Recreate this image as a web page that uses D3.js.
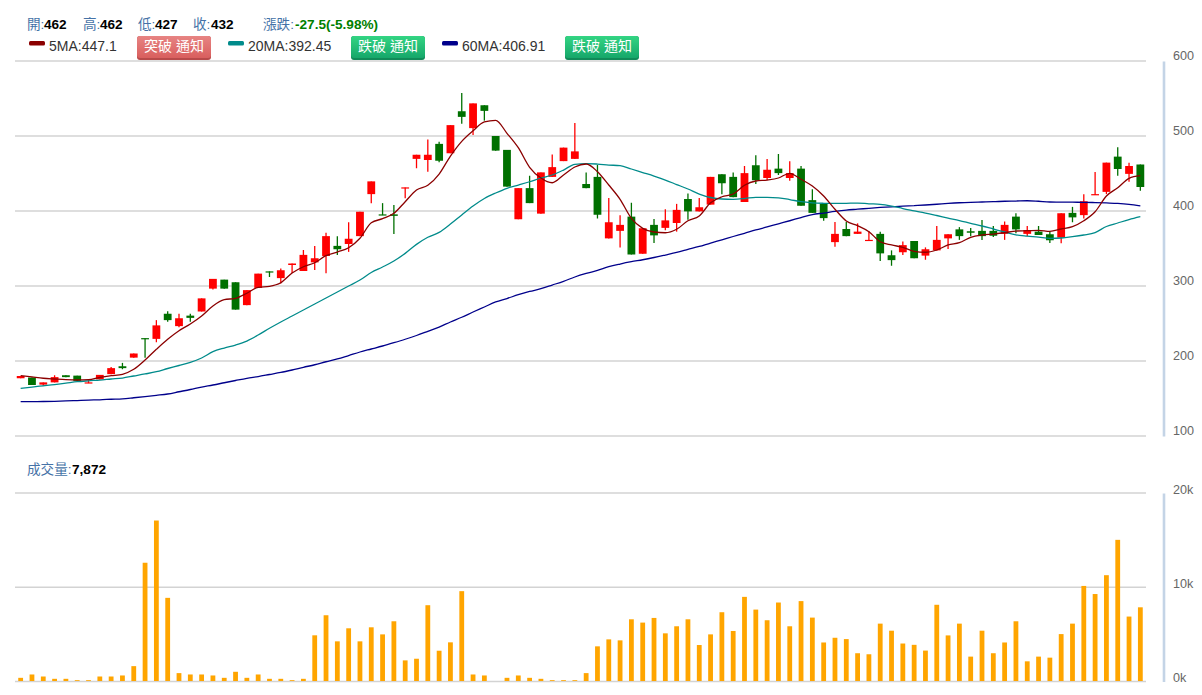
<!DOCTYPE html>
<html><head><meta charset="utf-8">
<script src="https://cdn.jsdelivr.net/npm/d3@7"></script>
<style>
html,body{margin:0;padding:0;background:#fff;overflow:hidden}
svg{display:block}
text{font-family:Arial,"Liberation Sans","Noto Sans CJK TC",sans-serif}
</style></head><body><svg id="c" width="1202" height="695"></svg>
<script>
const opens=[177,178,168.5,171.5,181,180.5,170.5,175.5,182.5,193,204.5,230.5,229.5,263,246.5,260.5,266,296.5,308.5,305,274.5,297.5,319.5,310.5,328,320,331.5,340,353.5,356,366.5,422.5,395.5,395.5,430.5,469.5,468,489.5,477,533,510.5,541,500,481.5,389,430.5,396.5,445.5,466.5,469.5,436,445.5,363.5,373.5,392.5,343,381.5,377.5,384,416,399.5,408.5,449,445.5,412,461,444,456.5,444,456.5,414.5,409.5,358.5,376,369.5,360.5,369.5,341,345,360,340.5,347.5,363.5,375.5,373,373.5,373.5,369.5,392.5,369.5,372.5,369,364.5,397.5,394.5,421.5,425.5,472.5,449.5,462];
const highs=[180,178,171.5,181,181,180.5,174.5,181.5,192,197.5,210,230.5,254.5,266.5,263,263,283.5,309.5,308.5,305,294.5,316.5,319.5,323.5,330,348,353.5,371,366.5,385,399,439.5,410.5,408,431.5,475,495.5,492.5,514.5,557.5,543.5,541,500,481.5,430.5,447,451.5,475.5,484.5,517.5,451.5,461.5,417.5,394.5,411,377,389.5,402.5,409.5,423.5,417.5,445.5,449,451.5,460,474.5,469.5,476,466.5,460,429,409.5,385.5,385.5,383.5,373.5,372.5,347.5,359.5,360,351.5,380,369,378.5,377.5,388,380,386,397,380,380,372.5,397,405.5,422.5,452,464.5,485,464.5,462];
const lows=[177,168,167,171.5,178.5,173.5,170.5,175.5,182.5,189,204.5,204.5,225,252.5,245,252.5,266,295.5,296.5,268.5,274.5,297.5,312,303.5,317.5,320,321.5,317,341.5,345.5,366.5,410.5,394.5,369.5,417,457,452.5,465,477,516.5,501.5,520.5,480.5,432.5,389,410.5,396.5,445.5,466.5,469.5,430.5,390,363.5,351.5,342,343,357.5,374.5,372.5,388.5,399.5,408.5,422.5,418.5,412,436,441.5,448,440.5,407,397.5,387,352.5,366.5,369.5,360.5,333.5,327,341.5,337,335,347.5,349.5,361.5,366.5,361.5,365.5,361.5,370.5,366.5,368,357.5,357,385,390,421.5,422.5,447,439,427];
const closes=[180,168,171.5,178.5,178.5,173.5,171.5,181.5,190.5,190.5,210,229,247.5,254.5,257,257.5,283.5,309.5,296.5,268.5,294.5,316.5,318.5,321,330,341.5,337,366.5,349,363,399,439.5,394.5,393.5,431.5,475,475,467,514.5,525.5,543.5,533.5,480.5,432.5,430.5,410.5,451.5,458.5,484.5,479.5,430.5,395,385,381.5,342,377,367.5,387.5,401.5,399.5,405,445.5,437,418.5,450.5,441,455,450.5,450.5,407,397.5,390.5,369.5,366.5,372.5,361.5,343.5,334.5,354.5,337,349,361.5,369,366.5,371,366.5,367,381.5,375.5,374.5,368,361,397,391.5,413,422.5,464.5,456,460,432];
const ma5=[180.4,178.7,177,176,175.1,174.7,175.1,178.3,180.4,182.3,188.9,201.3,215.6,229,240.4,249.3,260,273.3,281.7,283.6,290.3,298.3,299.6,304.4,317.3,325.7,331,340.4,345.3,351,363.6,384.4,389.7,396.9,412.4,428,434.3,449.3,473.3,492.9,507,518.7,520.9,503.6,484.4,458.3,444,437.7,448,458.7,462.7,452.4,434.7,415.6,390.2,376.9,372,371,375.6,387,393.3,411,419,422.7,434.3,440,441.3,444,450.3,442.3,433.3,420,402.3,386.7,380.4,372.4,359,354.7,351.6,346.3,345,348,354.7,357.7,364.9,368,369.3,371,373.3,373.7,374.3,372.9,376,379.1,387,399,420,431,443.6,447.1];
const ma20=[163.6,165.3,166.9,168.5,170.4,172.4,173.6,174.6,176,177.3,180,182.7,185.7,190,194,198.2,204,212.4,217.3,221.3,226.6,234.6,243.6,252,260,268,276,284,292,300,308,318,325.3,333.3,343.5,355.5,365,371.5,382.6,394.7,406.6,416.6,424,430.3,434.6,439,444,448,454.6,462.3,463.3,462.6,461.3,460.4,456,451.3,446.6,441.3,435.3,429.3,422.6,418,416,415.6,416.6,418.3,418.3,417.6,415.3,412.4,410.9,410.3,410.1,410.3,410.6,409.6,408.9,406.6,403.3,400.3,397.3,394,390.6,387.3,383.6,380,376,372,368.3,366.6,365.3,363.6,364,365.7,368,371.3,379.3,384,388.6,392.45];
const ma60=[145.7,145.9,146,146.3,146.7,147.3,147.9,148.3,149,149.6,151,152.5,154.2,156,159,162,165.3,168,171,174,176.9,179.3,182,184.7,188,191.6,195,199,202.7,207.3,212,216,220,224.4,229,234,239.6,245.3,252,258.3,265.3,272,278.7,283.3,288.4,292.7,296.4,301.3,306.3,312,316.7,320.7,325.7,329.3,332.4,335,338,341.3,344.7,348.7,352.7,357.3,361.6,366,370.3,374.7,378.7,382.9,387,391.3,395.3,397.3,399.5,401.3,402.4,403.6,404.7,405.6,406.4,407.2,408,409,410.1,411,411.6,412,412.4,413,413.3,413.7,413,412,411.9,411.7,411.6,411.2,410.7,410.1,408.9,406.91];
const volumes=[390,745,530,285,285,140,140,530,530,640,1630,12600,17080,8875,890,745,745,640,390,1030,390,745,285,285,140,285,4900,7030,4260,5645,4260,5750,5000,6390,2240,2415,8095,3265,4155,9585,745,640,30,390,640,390,285,140,140,140,890,3730,4470,4365,6600,6250,6745,5110,5860,6600,3870,5000,7350,5360,8980,7630,6500,8380,5860,8530,6780,4140,4640,4500,3000,2890,6140,5390,4030,3890,3280,8140,4890,6140,2640,5390,3000,4140,6390,2140,2640,2530,5030,6140,10140,9280,11280,15030,6890,7872];
const priceTicks=[100,200,300,400,500,600];
const volumeTicks=[0,10000,20000];
const quote=[["開:","462",27,44],["高:","462",83,100],["低:","427",138,155],["收:","432",193,211]];
const maLegend=[["5MA:447.1","#8b0000","突破 通知","r"],["20MA:392.45","#008b8b","跌破 通知","g"],["60MA:406.91","#00008b","跌破 通知","g"]];

const svg=d3.select("#c");
const defs=svg.append("defs");
[["r","#e78483","#d95f5e"],["g","#33d583","#16a76a"]].forEach(([id,a,b])=>{
  const g=defs.append("linearGradient").attr("id","btn"+id).attr("x1",0).attr("x2",0).attr("y1",0).attr("y2",1);
  g.append("stop").attr("offset","0").attr("stop-color",a);
  g.append("stop").attr("offset","1").attr("stop-color",b);
});

const L=15,R=1146;
const x=d3.scaleBand().domain(d3.range(closes.length)).range([L,R]);
const cx=i=>x(i)+x.bandwidth()/2;
const y=d3.scaleLinear().domain([100,600]).range([436,61]);
const yv=d3.scaleLinear().domain([0,20000]).range([681.5,493]);

const gridColor="#d3d3d3";
svg.append("g").selectAll("line").data(priceTicks).join("line")
  .attr("x1",L).attr("x2",R).attr("y1",d=>y(d)).attr("y2",d=>y(d))
  .attr("stroke",gridColor).attr("stroke-width",1.6);
svg.append("g").selectAll("line").data(volumeTicks).join("line")
  .attr("x1",L).attr("x2",R).attr("y1",d=>yv(d)).attr("y2",d=>yv(d))
  .attr("stroke",gridColor).attr("stroke-width",1.6);

function styleAxis(g,dy){
  g.select(".domain").attr("stroke","#c4d4e6").attr("stroke-width",2.6);
  g.selectAll(".tick line").remove();
  g.selectAll(".tick text").attr("x",9.5).attr("dy",dy)
    .attr("fill","#666").style("font-size","12.6px").style("font-family","Arial,'Liberation Sans',sans-serif");
}
svg.append("g").attr("transform","translate(1163.5,0)")
  .call(d3.axisRight(y).tickValues(priceTicks).tickSize(0).tickSizeOuter(0))
  .call(g=>styleAxis(g,"-0.1em"));
svg.append("g").attr("transform","translate(1163.5,0)")
  .call(d3.axisRight(yv).tickValues(volumeTicks).tickSize(0).tickSizeOuter(0).tickFormat(d=>(d/1000)+"k"))
  .call(g=>styleAxis(g,"0.03em"));

// candles
const up="#ff0000",down="#007000";
const idx=d3.range(closes.length);
const colorOf=i=>closes[i]>opens[i]?up:down;
const bodyW=7.8;
const candles=svg.append("g");
candles.selectAll("line").data(idx).join("line")
  .attr("x1",cx).attr("x2",cx)
  .attr("y1",i=>y(highs[i])).attr("y2",i=>y(lows[i]))
  .attr("stroke",colorOf).attr("stroke-width",1.3);
candles.selectAll("rect").data(idx).join("rect")
  .attr("x",i=>cx(i)-bodyW/2).attr("width",bodyW)
  .attr("y",i=>y(Math.max(opens[i],closes[i])))
  .attr("height",i=>Math.max(1.2,Math.abs(y(opens[i])-y(closes[i]))))
  .attr("fill",colorOf);

// moving averages
const line=d3.line().x((d,i)=>cx(i)).y(d=>y(d)).curve(d3.curveMonotoneX);
[[ma60,"#00008b"],[ma20,"#008b8b"],[ma5,"#8b0000"]].forEach(([s,c])=>{
  svg.append("path").attr("d",line(s)).attr("fill","none").attr("stroke",c).attr("stroke-width",1.3);
});

// volume
const volW=4.8;
svg.append("g").selectAll("rect").data(volumes).join("rect")
  .attr("x",(d,i)=>cx(i)-volW/2).attr("width",volW)
  .attr("y",d=>yv(d)).attr("height",d=>yv(0)-yv(d)-0.5)
  .attr("fill","#ffa500");

// header
const hdr=svg.append("g").style("font-size","13.6px");
const labelBlue="#4572a7";
quote.forEach(([a,b,xa,xb])=>{
  hdr.append("text").attr("x",xa).attr("y",29).attr("fill",labelBlue).text(a);
  hdr.append("text").attr("x",xb).attr("y",29).attr("fill","#000").attr("font-weight","bold").text(b);
});
hdr.append("text").attr("x",263).attr("y",29).attr("fill",labelBlue).text("漲跌:");
hdr.append("text").attr("x",295).attr("y",29).attr("fill","#008000").attr("font-weight","bold").text("-27.5(-5.98%)");

// legend
const lx=[[29,49,137],[228,248,351],[442,462,565]];
maLegend.forEach(([t,c,b,k],i)=>{
  const [sw,tx,bx]=lx[i];
  svg.append("rect").attr("x",sw).attr("y",41).attr("width",16).attr("height",4.5).attr("rx",1.5).attr("fill",c);
  svg.append("text").attr("x",tx).attr("y",51).attr("fill","#333").style("font-size","14px").text(t);
  svg.append("rect").attr("x",bx).attr("y",36).attr("width",74).attr("height",24).attr("rx",3).attr("fill",k==="r"?"#b84a4a":"#118a58");
  svg.append("rect").attr("x",bx).attr("y",36).attr("width",74).attr("height",22).attr("rx",3).attr("fill","url(#btn"+k+")");
  svg.append("text").attr("x",bx+37).attr("y",51).attr("text-anchor","middle").attr("fill","#fff").style("font-size","14px").text(b);
});

// volume title
svg.append("text").attr("x",27).attr("y",474).attr("fill",labelBlue).style("font-size","13.6px").text("成交量:");
svg.append("text").attr("x",72).attr("y",474).attr("fill","#000").attr("font-weight","bold").style("font-size","13.6px").text("7,872");
</script></body></html>
